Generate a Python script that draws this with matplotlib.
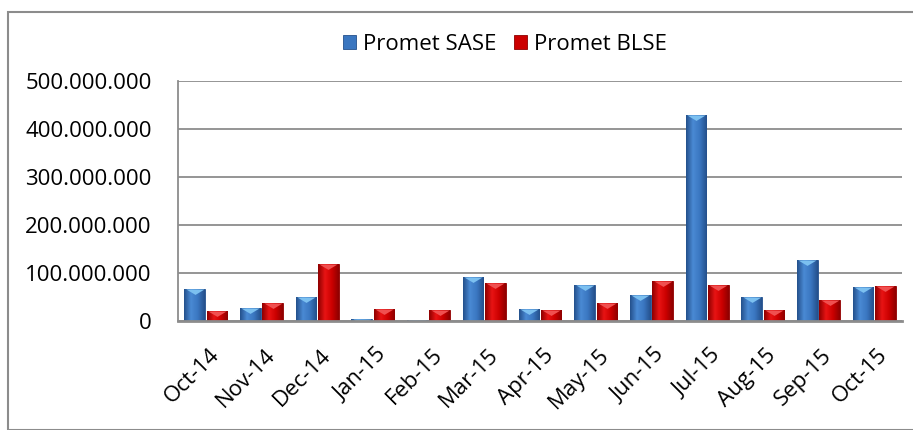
import numpy as np
import matplotlib
matplotlib.use('Agg')
import matplotlib.pyplot as plt
import matplotlib.transforms as mtransforms
from matplotlib.patches import Rectangle
from matplotlib.colors import LinearSegmentedColormap
from matplotlib.ticker import FuncFormatter

months = ['Oct-14', 'Nov-14', 'Dec-14', 'Jan-15', 'Feb-15', 'Mar-15', 'Apr-15',
          'May-15', 'Jun-15', 'Jul-15', 'Aug-15', 'Sep-15', 'Oct-15']
sase = [66e6, 27e6, 50e6, 4e6, 2e6, 91e6, 25e6, 74e6, 54e6, 430e6, 50e6, 128e6, 70e6]
blse = [20e6, 37e6, 118e6, 25e6, 23e6, 79e6, 23e6, 37e6, 83e6, 75e6, 23e6, 43e6, 72e6]

plt.rcParams['font.family'] = ['Open Sans', 'DejaVu Sans']
FS = 16

fig = plt.figure(figsize=(9.13, 4.30), dpi=100)
fig.patches.append(Rectangle((8 / 913, 0), 1.0, 1 - 12 / 430, transform=fig.transFigure,
                             fill=False, edgecolor='#8c8c8c', linewidth=1.5))
ax = fig.add_axes([178 / 913, 1 - 321 / 430, 724 / 913, 240 / 430])

x = np.arange(len(months))
w = 0.37
series = [(sase, -0.2, ['#24508c', '#4a8ad4', '#3a76c0', '#24508c'], '#7cc0f0', 'Promet SASE'),
          (blse, 0.2, ['#8e0000', '#e81414', '#cc0000', '#8e0000'], '#f05050', 'Promet BLSE')]
grad = np.linspace(0, 1, 64).reshape(1, -1)
for vals, dx, cols, light, name in series:
    bars = ax.bar(x + dx, vals, width=w, color=cols[2], edgecolor=cols[0],
                  linewidth=0.6, label=name, zorder=3)
    cmap = LinearSegmentedColormap.from_list(name, cols)
    for b in bars:
        im = ax.imshow(grad, cmap=cmap, aspect='auto', zorder=3.5,
                       extent=[b.get_x(), b.get_x() + b.get_width(), 0, b.get_height()])
        im.set_clip_path(b)
    # light chevron on top of each bar
    ax.plot(x + dx, vals, linestyle='none', marker=[(-1, 0), (1, 0), (0, -0.6)],
            markersize=13, color=light, markeredgewidth=0, zorder=4)

ax.set_xlim(-0.5, len(months) - 0.5)
ax.set_ylim(0, 500e6)
ax.set_yticks(np.arange(0, 500e6 + 1, 100e6))
ax.yaxis.set_major_formatter(FuncFormatter(lambda v, p: f'{int(v):,}'.replace(',', '.')))
ax.grid(axis='y', color='#8c8c8c', linewidth=1.3, zorder=0)
ax.set_xticks(x)
ax.set_xticklabels(months, rotation=45, ha='right', va='top', rotation_mode='anchor')
ax.tick_params(axis='both', length=0, labelsize=FS)
ax.tick_params(axis='y', pad=19)
ax.tick_params(axis='x', pad=17)
shift = mtransforms.ScaledTranslation(3 / 100, 0, fig.dpi_scale_trans)
for lab in ax.get_xticklabels():
    lab.set_transform(lab.get_transform() + shift)
for s in ['top', 'right']:
    ax.spines[s].set_visible(False)
ax.spines['left'].set_color('#8c8c8c')
ax.spines['left'].set_linewidth(1.3)
ax.spines['bottom'].set_color('#8c8c8c')
ax.spines['bottom'].set_linewidth(2.0)
ax.spines['bottom'].set_zorder(5)

ax.legend(loc='center', bbox_to_anchor=(505 / 913, 1 - 44 / 430), bbox_transform=fig.transFigure,
          ncol=2, frameon=False, fontsize=FS, handlelength=0.6, handleheight=0.6,
          handletextpad=0.3, columnspacing=0.8)

fig.savefig('out.png', dpi=100)
